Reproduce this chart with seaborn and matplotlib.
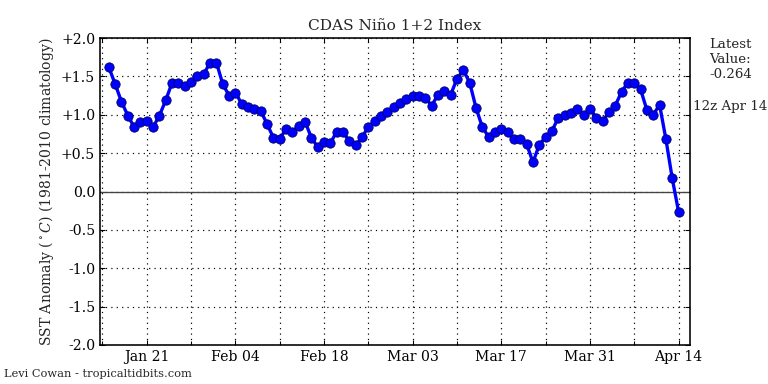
import pandas as pd
import numpy as np
import matplotlib
matplotlib.use('Agg')
import matplotlib.pyplot as plt
import matplotlib.dates as mdates
import seaborn as sns

# daily Nino 1+2 anomaly, Jan 15 - Apr 14
start_date = '2024-01-15'
anomaly = [1.62, 1.40, 1.17, 0.99, 0.84, 0.90, 0.92, 0.84, 0.99, 1.19,
           1.42, 1.41, 1.38, 1.43, 1.51, 1.53, 1.68, 1.68, 1.40, 1.25,
           1.29, 1.14, 1.10, 1.08, 1.05, 0.88, 0.70, 0.68, 0.82, 0.77,
           0.86, 0.91, 0.70, 0.58, 0.65, 0.63, 0.78, 0.77, 0.66, 0.60,
           0.71, 0.84, 0.92, 0.99, 1.04, 1.10, 1.15, 1.21, 1.25, 1.25,
           1.22, 1.12, 1.26, 1.31, 1.26, 1.47, 1.58, 1.42, 1.09, 0.84,
           0.71, 0.78, 0.81, 0.77, 0.68, 0.69, 0.62, 0.38, 0.61, 0.71,
           0.79, 0.96, 1.00, 1.02, 1.08, 1.00, 1.08, 0.96, 0.92, 1.03,
           1.12, 1.30, 1.42, 1.42, 1.33, 1.06, 1.00, 1.13, 0.68, 0.17,
           -0.264]
ytick_vals = [2.0, 1.5, 1.0, 0.5, 0.0, -0.5, -1.0, -1.5, -2.0]
ytick_labels = ['+2.0', '+1.5', '+1.0', '+0.5', '0.0', '-0.5', '-1.0', '-1.5', '-2.0']

df = pd.DataFrame({
    'date': pd.date_range(start_date, periods=len(anomaly), freq='D'),
    'sst': anomaly,
})

sns.set_style('white')
plt.rcParams['font.family'] = ['DejaVu Serif']
plt.rcParams['mathtext.fontset'] = 'dejavuserif'

fig = plt.figure(figsize=(8, 4), dpi=96)
ax = fig.add_axes([0.130, 0.1016, 0.768, 0.7994])

ax.axhline(0, color='#444444', lw=1, zorder=1)
sns.lineplot(x='date', y='sst', data=df, ax=ax, color='blue', lw=2.5,
             marker='o', markersize=7, markerfacecolor='blue',
             markeredgecolor='#000060', markeredgewidth=0.6, zorder=3)

ax.set_xlim(pd.Timestamp('2024-01-13 14:00'), pd.Timestamp('2024-04-15 18:00'))
ax.set_ylim(-2, 2)
ticks = pd.date_range('2024-01-21', '2024-04-14', freq='14D')
minor = pd.date_range('2024-01-14', '2024-04-14', freq='7D')
ax.set_xticks(ticks)
ax.set_xticklabels([t.strftime('%b %d') for t in ticks])
ax.set_xticks(minor, minor=True)
ax.set_yticks(ytick_vals)
ax.set_yticklabels(ytick_labels)

dots = (0, (1, 3.5))
ax.grid(True, which='both', axis='x', color='black', linestyle=dots, lw=0.9)
ax.grid(True, which='major', axis='y', color='black', linestyle=dots, lw=0.9)
ax.tick_params(which='both', direction='in', top=True, right=True,
               bottom=True, left=True, length=4, width=0.8, labelsize=10.5,
               colors='black')
ax.tick_params(which='minor', length=3)
for s in ax.spines.values():
    s.set_color('black')
    s.set_linewidth(1.2)

ax.set_xlabel('')
ax.set_ylabel(r'SST Anomaly ($^\circ C$) (1981-2010 climatology)', fontsize=10.5)
ax.set_title('CDAS Niño 1+2 Index', fontsize=11.5)

fig.text(0.951, 0.900, 'Latest\nValue:\n-0.264', ha='center', va='top', fontsize=10)
fig.text(0.951, 0.723, '12z Apr 14', ha='center', va='center', fontsize=10)
fig.text(0.005, 0.025, 'Levi Cowan - tropicaltidbits.com', ha='left', va='center', fontsize=8.5)

fig.savefig('out.png', dpi=96)
